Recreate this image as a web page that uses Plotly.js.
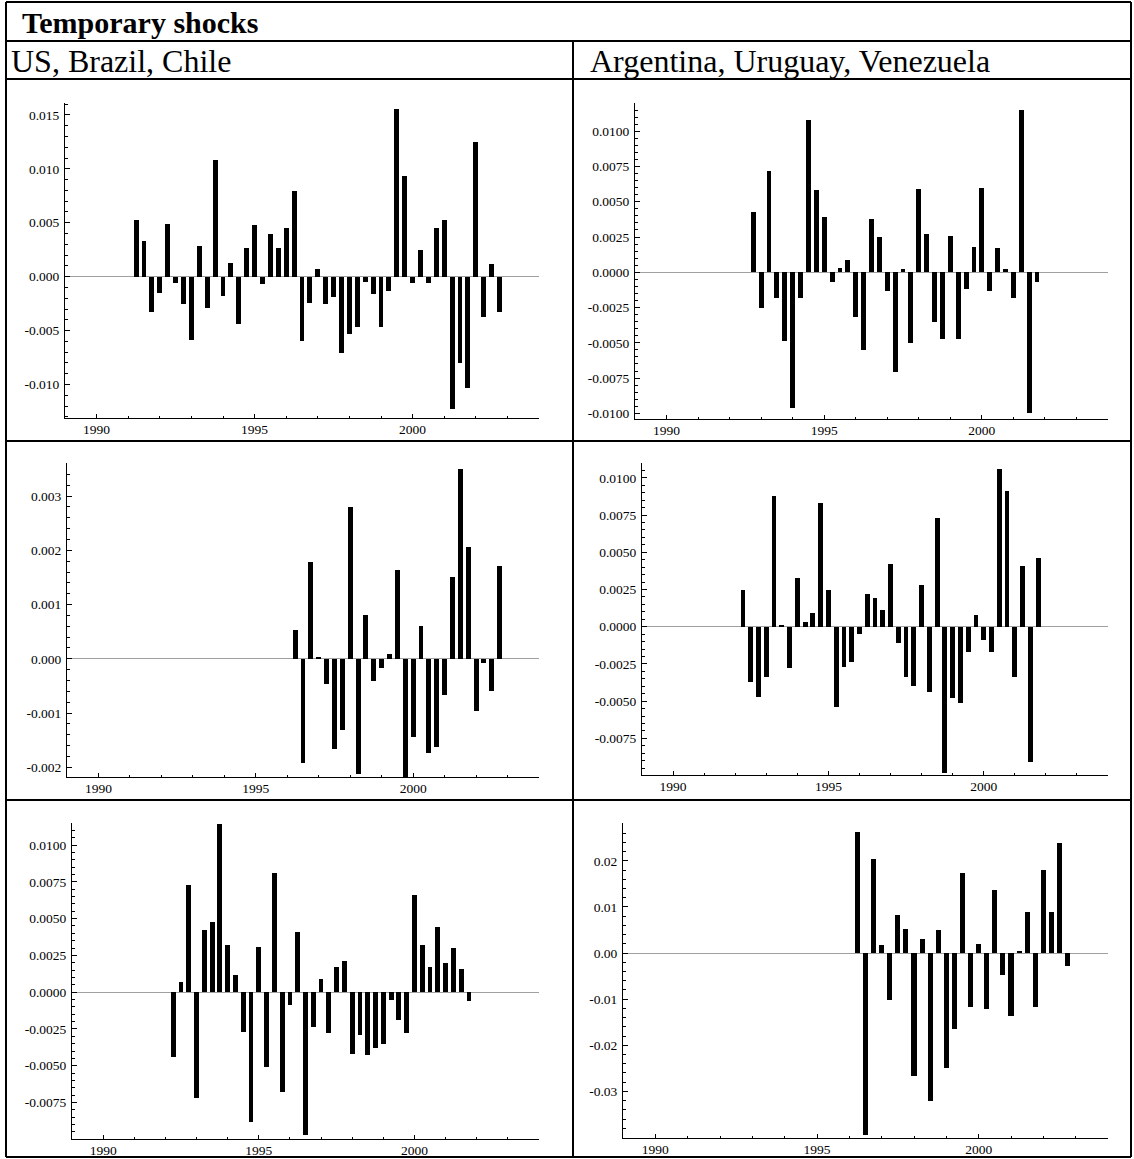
<!DOCTYPE html>
<html>
<head>
<meta charset="utf-8">
<script src="https://cdn.plot.ly/plotly-3.0.1.min.js"></script>
<style>html,body{margin:0;padding:0;background:#fff;}#chart{width:1134px;height:1159px;}</style>
</head>
<body>
<div id="chart"></div>
<script>
// ---------- data ----------
const tableTitle = "Temporary shocks";
const groupLabels = ["US, Brazil, Chile", "Argentina, Uruguay, Venezuela"];
const yearTickVals = [1990, 1995, 2000];
const yearTickText = ["1990", "1995", "2000"];

// first quarter of each series (decimal year), one bar per quarter afterwards
const usStart = 1991.25;
const argentinaStart = 1992.75;
const brazilStart = 1996.25;
const uruguayStart = 1992.25;
const chileStart = 1992.25;
const venezuelaStart = 1996.25;

const usShocks = [0.0053, 0.0033, -0.0033, -0.0015, 0.0049, -0.0006, -0.0025, -0.0059, 0.0028, -0.0029,
  0.0108, -0.0018, 0.0013, -0.0044, 0.0027, 0.0048, -0.0007, 0.0040, 0.0027, 0.0045,
  0.0079, -0.0060, -0.0024, 0.0007, -0.0025, -0.0019, -0.0071, -0.0053, -0.0047, -0.0005,
  -0.0016, -0.0047, -0.0013, 0.0155, 0.0093, -0.0006, 0.0025, -0.0006, 0.0045, 0.0053,
  -0.0123, -0.0080, -0.0103, 0.0125, -0.0037, 0.0012, -0.0033];
const argentinaShocks = [0.0043, -0.0025, 0.0072, -0.0018, -0.0049, -0.0096, -0.0018, 0.0108, 0.0058, 0.0039,
  -0.0007, 0.0003, 0.0009, -0.0032, -0.0055, 0.0038, 0.0025, -0.0013, -0.0071, 0.0002,
  -0.0050, 0.0059, 0.0027, -0.0035, -0.0047, 0.0026, -0.0047, -0.0012, 0.0018, 0.0060,
  -0.0013, 0.0017, 0.0002, -0.0018, 0.0115, -0.0100, -0.0007];
const brazilShocks = [0.00053, -0.00192, 0.00178, 0.00003, -0.00047, -0.00167, -0.00131, 0.0028, -0.00213, 0.0008,
  -0.00041, -0.00017, 0.00009, 0.00164, -0.0024, -0.00145, 0.0006, -0.00174, -0.00163, -0.00066,
  0.0015, 0.0035, 0.00206, -0.00096, -0.00007, -0.00059, 0.00172];
const uruguayShocks = [0.0025, -0.0037, -0.0047, -0.0034, 0.0088, 0.0001, -0.0028, 0.0033, 0.0003, 0.0009,
  0.0083, 0.0025, -0.0054, -0.0027, -0.0024, -0.0005, 0.0022, 0.0019, 0.0011, 0.0042,
  -0.0011, -0.0034, -0.0040, 0.0028, -0.0044, 0.0073, -0.0098, -0.0048, -0.0051, -0.0017,
  0.0008, -0.0009, -0.0017, 0.0106, 0.0091, -0.0034, 0.0041, -0.0091, 0.0046];
const chileShocks = [-0.0044, 0.0007, 0.0073, -0.0072, 0.0042, 0.0048, 0.0114, 0.0032, 0.0012, -0.0027,
  -0.0088, 0.0031, -0.0051, 0.0081, -0.0068, -0.0009, 0.0041, -0.0097, -0.0024, 0.0009,
  -0.0028, 0.0017, 0.0021, -0.0042, -0.0029, -0.0043, -0.0038, -0.0035, -0.0005, -0.0019,
  -0.0028, 0.0066, 0.0032, 0.0017, 0.0044, 0.0020, 0.0030, 0.0016, -0.0006];
const venezuelaShocks = [0.0262, -0.0395, 0.0205, 0.0018, -0.0101, 0.0083, 0.0052, -0.0266, 0.0030, -0.0321,
  0.0050, -0.0249, -0.0165, 0.0174, -0.0118, 0.0020, -0.0122, 0.0136, -0.0048, -0.0136,
  0.0004, 0.0088, -0.0118, 0.0181, 0.0088, 0.0239, -0.0027];

// y tick labels per panel
const usTicks = [-0.010, -0.005, 0, 0.005, 0.010, 0.015];
const argentinaTicks = [-0.0100, -0.0075, -0.0050, -0.0025, 0, 0.0025, 0.0050, 0.0075, 0.0100];
const brazilTicks = [-0.002, -0.001, 0, 0.001, 0.002, 0.003];
const uruguayTicks = [-0.0075, -0.0050, -0.0025, 0, 0.0025, 0.0050, 0.0075, 0.0100];
const chileTicks = [-0.0075, -0.0050, -0.0025, 0, 0.0025, 0.0050, 0.0075, 0.0100];
const venezuelaTicks = [-0.03, -0.02, -0.01, 0, 0.01, 0.02];

// ---------- layout ----------
const W = 1134, H = 1159;
const FONT = "Liberation Serif, Times New Roman, serif";
const px = v => v / W;
const py = v => 1 - v / H;

const panels = [
  {vals: usShocks, start: usStart, ticks: usTicks, dec: 3, minor: 0.001, yr: [-0.0131, 0.0161], box: [65, 539, 103, 418]},
  {vals: argentinaShocks, start: argentinaStart, ticks: argentinaTicks, dec: 4, minor: 0.0005, yr: [-0.0104, 0.0120], box: [635, 1108, 103, 419]},
  {vals: brazilShocks, start: brazilStart, ticks: brazilTicks, dec: 3, minor: 0.0002, yr: [-0.00218, 0.00361], box: [67, 539, 463, 777]},
  {vals: uruguayShocks, start: uruguayStart, ticks: uruguayTicks, dec: 4, minor: 0.0005, yr: [-0.00996, 0.0110], box: [642, 1108, 463, 775]},
  {vals: chileShocks, start: chileStart, ticks: chileTicks, dec: 4, minor: 0.0005, yr: [-0.00998, 0.0115], box: [72, 539, 823, 1139]},
  {vals: venezuelaShocks, start: venezuelaStart, ticks: venezuelaTicks, dec: 2, minor: 0.002, yr: [-0.0401, 0.0282], box: [623, 1108, 823, 1138]}
];

const traces = [];
const layout = {
  width: W, height: H, autosize: false,
  margin: {l: 0, r: 0, t: 0, b: 0, pad: 0},
  paper_bgcolor: "#fff", plot_bgcolor: "rgba(0,0,0,0)",
  showlegend: false, bargap: 0,
  font: {family: FONT, color: "#000"},
  shapes: [], annotations: []
};

panels.forEach((p, i) => {
  const n = i === 0 ? "" : String(i + 1);
  const xs = p.vals.map((_, k) => p.start + k * 0.25);
  traces.push({
    type: "bar", x: xs, y: p.vals, xaxis: "x" + n, yaxis: "y" + n,
    width: 0.155, marker: {color: "#000", line: {width: 0}}, hoverinfo: "skip"
  });
  const [x0, x1, yt, yb] = p.box;
  layout["xaxis" + n] = {
    domain: [px(x0), px(x1)], range: [1989, 2004], anchor: "y" + n,
    showline: true, linecolor: "#000", linewidth: 1,
    showgrid: false, zeroline: false, fixedrange: true,
    ticks: "inside", ticklen: 4.5, tickwidth: 1, tickcolor: "#000",
    tickmode: "array", tickvals: yearTickVals, ticktext: yearTickText,
    tickfont: {family: FONT, size: 13.5, color: "#000"}, ticklabelstandoff: -1,
    minor: {tickmode: "linear", tick0: 1989, dtick: 1, ticks: "inside", ticklen: 2.5, tickwidth: 1, tickcolor: "#000", showgrid: false}
  };
  layout["yaxis" + n] = {
    domain: [py(yb), py(yt)], range: p.yr, anchor: "x" + n,
    showline: true, linecolor: "#000", linewidth: 1,
    showgrid: false, fixedrange: true,
    zeroline: true, zerolinecolor: "#a0a0a0", zerolinewidth: 1,
    ticks: "inside", ticklen: 4.5, tickwidth: 1, tickcolor: "#000",
    tickmode: "array", tickvals: p.ticks, ticktext: p.ticks.map(v => v.toFixed(p.dec)),
    tickfont: {family: FONT, size: 13.5, color: "#000"}, ticklabelstandoff: 2,
    minor: {tickmode: "linear", tick0: 0, dtick: p.minor, ticks: "inside", ticklen: 2.5, tickwidth: 1, tickcolor: "#000", showgrid: false}
  };
});

// table rules
const L = 6, R = 1131, T = 2, B = 1157, MID = 573;
const rule = (xa, ya, xb, yb) => ({type: "line", xref: "paper", yref: "paper",
  x0: px(xa), y0: py(ya), x1: px(xb), y1: py(yb), line: {color: "#000", width: 2}});
layout.shapes.push(
  rule(L, T, R, T), rule(L, B, R, B), rule(L, T, L, B), rule(R, T, R, B),
  rule(L, 41, R, 41), rule(L, 79, R, 79), rule(L, 441, R, 441), rule(L, 800, R, 800),
  rule(MID, 41, MID, B)
);

layout.annotations.push(
  {xref: "paper", yref: "paper", x: px(20), y: py(22), xanchor: "left", yanchor: "middle",
   text: "<b>" + tableTitle + "</b>", showarrow: false, font: {family: FONT, size: 30, color: "#000"}},
  {xref: "paper", yref: "paper", x: px(9), y: py(61), xanchor: "left", yanchor: "middle",
   text: groupLabels[0], showarrow: false, font: {family: FONT, size: 32, color: "#000"}},
  {xref: "paper", yref: "paper", x: px(588), y: py(61), xanchor: "left", yanchor: "middle",
   text: groupLabels[1], showarrow: false, font: {family: FONT, size: 32, color: "#000"}}
);

Plotly.newPlot("chart", traces, layout, {staticPlot: true, displayModeBar: false});
</script>
</body>
</html>
